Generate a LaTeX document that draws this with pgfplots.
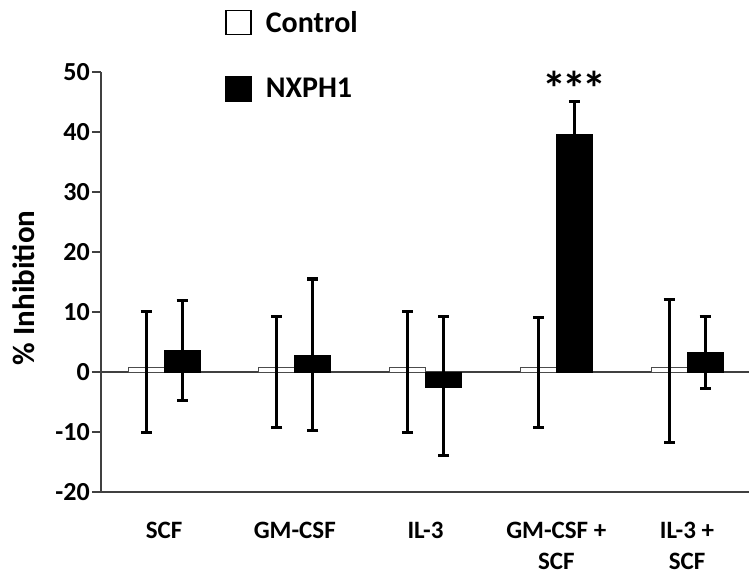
\documentclass[border=0pt]{standalone}
\usepackage{fontspec}
\setmainfont{Carlito}
\usepackage{pgfplots}
\pgfplotsset{compat=1.18}
\begin{document}
\begin{tikzpicture}[x=1pt,y=1pt]
\path[use as bounding box] (0,0) rectangle (749,578);
\begin{axis}[
  at={(101pt,86pt)}, anchor=south west,
  scale only axis, width=648pt, height=420pt,
  xmin=-0.482, xmax=4.474, ymin=-20, ymax=50,
  axis x line=bottom, axis y line=left,
  axis line style={-, line width=1.3pt, color=black!75},
  ytick={-20,-10,...,50},
  yticklabels={{-20},{-10},{0},{10},{20},{30},{40},{50}},
  yticklabel style={font=\bfseries\fontsize{26}{26}\selectfont, inner xsep=2pt},
  tick align=outside, major tick length=9pt,
  ytick style={line width=1.3pt, color=black!75},
  xtick={0,1,2,3,4},
  xticklabels={SCF,GM-CSF,IL-3,{GM-CSF +\\SCF},{IL-3 +\\SCF}},
  xticklabel style={font=\bfseries\fontsize{25}{31}\selectfont, align=center, anchor=north, yshift=-18pt},
  x tick style={draw=none},
  extra y ticks={0}, extra y tick labels={},
  extra y tick style={grid=major, major grid style={line width=1.3pt, color=black!75}},
  ylabel={\% Inhibition},
  ylabel style={font=\bfseries\fontsize{31}{31}\selectfont, at={(axis description cs:-0.119,0.486)}, anchor=center},
  legend style={at={(axis description cs:0.191,1.150)}, anchor=north west, draw=none, fill=none,
    inner sep=0pt, font=\bfseries\fontsize{30}{30}\selectfont, row sep=40pt, cells={anchor=west},
    /tikz/every odd column/.append style={column sep=12pt}},
  legend cell align=left,
  clip=false,
]
\addplot[ybar, bar width=36pt, bar shift=0pt, fill=white, draw=black!70, line width=1pt,
  legend image code/.code={\draw[fill=white, draw=black, line width=1.8pt] (0pt,-12pt) rectangle (25pt,12pt);},
  error bars/.cd, y dir=both, y explicit,
  error bar style={black, line width=3pt},
  error mark options={rotate=90, black, line width=3pt, mark size=5.5pt},
  ]
  coordinates {
  (-0.1377,0.7) += (0,9.3) -= (0,10.8)
  (0.8623,0.7) += (0,8.5) -= (0,9.9)
  (1.8623,0.7) += (0,9.3) -= (0,10.8)
  (2.8623,0.7) += (0,8.4) -= (0,9.9)
  (3.8623,0.7) += (0,11.3) -= (0,12.5)
  };
\addlegendentry{Control}
\addplot[ybar, bar width=36pt, bar shift=0pt, fill=black, draw=black, line width=1pt,
  legend image code/.code={\draw[fill=black, draw=black, line width=1.8pt] (0pt,-12pt) rectangle (25pt,12pt);},
  error bars/.cd, y dir=both, y explicit,
  error bar style={black, line width=3pt},
  error mark options={rotate=90, black, line width=3pt, mark size=5.5pt},
  ]
  coordinates {
  (0.1377,3.55) += (0,8.35) -= (0,8.25)
  (1.1377,2.8) += (0,12.7) -= (0,12.6)
  (2.1377,-2.55) += (0,11.85) -= (0,11.35)
  (3.1377,39.55) += (0,5.45) -= (0,5.45)
  (4.1377,3.3) += (0,6.0) -= (0,6.1)
  };
\addlegendentry{NXPH1}
\node[font=\bfseries\fontsize{48}{48}\selectfont, anchor=north, inner sep=0pt] at (axis cs:3.138,50.2) {*\kern-4pt*\kern-4pt*};
\end{axis}
\end{tikzpicture}
\end{document}
